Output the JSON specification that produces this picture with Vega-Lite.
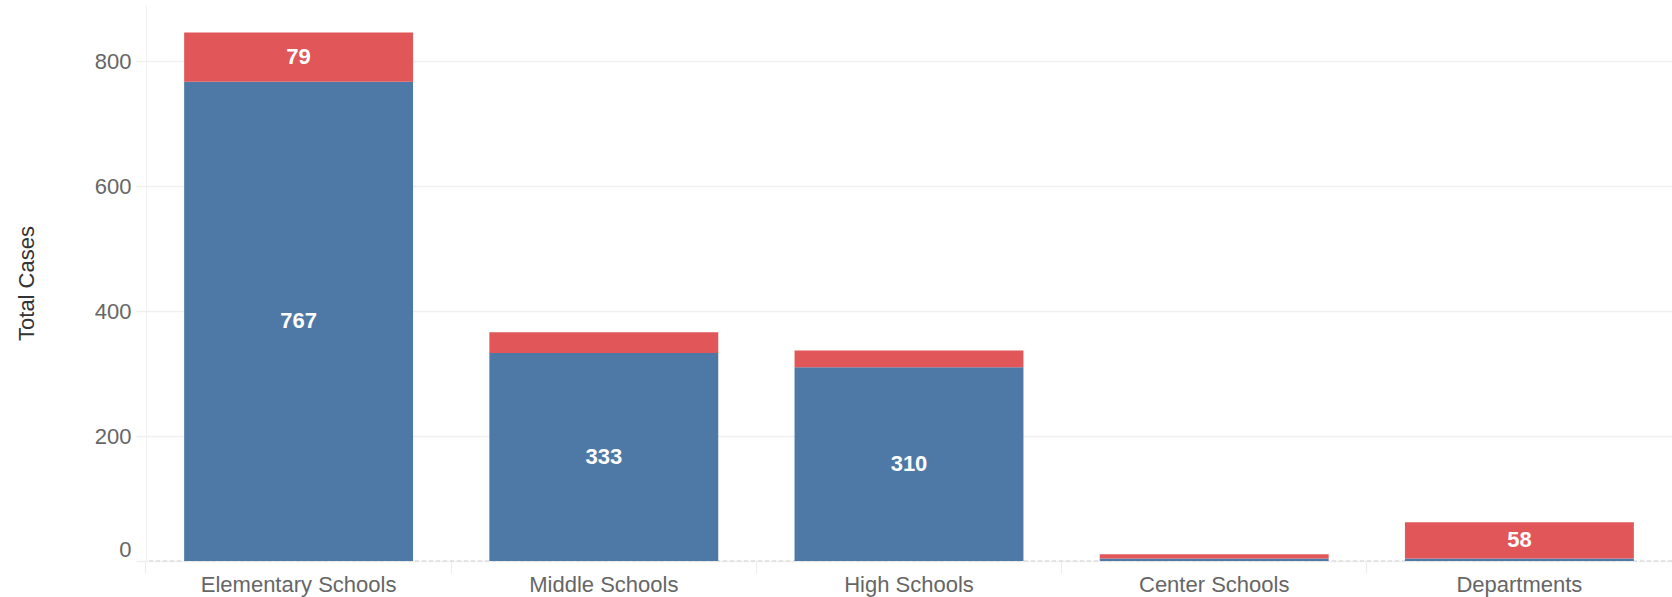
{
  "$schema": "https://vega.github.io/schema/vega-lite/v6.json",
  "width": 1526,
  "height": 556,
  "autosize": "none",
  "padding": {"left": 146, "top": 5, "right": 0, "bottom": 36},
  "background": "white",
  "config": {
    "font": "Liberation Sans",
    "view": {"stroke": null}
  },
  "data": {
    "values": [
      {"category": "Elementary Schools", "type": "Students", "order": 1, "cases": 767},
      {"category": "Elementary Schools", "type": "Staff", "order": 2, "cases": 79},
      {"category": "Middle Schools", "type": "Students", "order": 1, "cases": 333},
      {"category": "Middle Schools", "type": "Staff", "order": 2, "cases": 33},
      {"category": "High Schools", "type": "Students", "order": 1, "cases": 310},
      {"category": "High Schools", "type": "Staff", "order": 2, "cases": 27},
      {"category": "Center Schools", "type": "Students", "order": 1, "cases": 4},
      {"category": "Center Schools", "type": "Staff", "order": 2, "cases": 7},
      {"category": "Departments", "type": "Students", "order": 1, "cases": 4},
      {"category": "Departments", "type": "Staff", "order": 2, "cases": 58}
    ]
  },
  "transform": [
    {"stack": "cases", "groupby": ["category"], "sort": [{"field": "order"}], "as": ["y0", "y1"]}
  ],
  "encoding": {
    "x": {
      "field": "category",
      "type": "nominal",
      "sort": ["Elementary Schools", "Middle Schools", "High Schools", "Center Schools", "Departments"],
      "scale": {"paddingInner": 0.25, "paddingOuter": 0.125},
      "axis": {
        "title": null,
        "labelAngle": 0,
        "labelFontSize": 22,
        "labelColor": "#666666",
        "labelPadding": 1,
        "labelLimit": 500,
        "domain": false,
        "ticks": true,
        "bandPosition": -0.1667,
        "tickColor": "#ececec",
        "tickSize": 12,
        "tickWidth": 1
      }
    }
  },
  "layer": [
    {
      "mark": {"type": "rule", "color": "#e3e3e3", "strokeDash": [4, 3], "strokeWidth": 1},
      "encoding": {"y": {"datum": 0, "type": "quantitative", "scale": {"domain": [0, 890], "nice": false}}, "x": null}
    },
    {
      "mark": {"type": "bar"},
      "encoding": {
        "y": {
          "field": "y1",
          "type": "quantitative",
          "scale": {"domain": [0, 890], "nice": false},
          "axis": {
            "title": "Total Cases",
            "titleFontSize": 22,
            "titleFontWeight": "normal",
            "titleColor": "#333333",
            "titlePadding": 56,
            "values": [0, 200, 400, 600, 800],
            "labelFontSize": 22,
            "labelColor": "#666666",
            "labelPadding": 5,
            "labelOffset": {"condition": {"test": "datum.value === 0", "value": -12}, "value": 0},
            "tickSize": 10,
            "tickColor": "#efefef",
            "tickWidth": 1.5,
            "domain": true,
            "domainColor": "#f0f0f0",
            "domainWidth": 1,
            "grid": true,
            "gridColor": "#f0f0f0",
            "gridWidth": 1.5
          }
        },
        "y2": {"field": "y0"},
        "color": {
          "field": "type",
          "type": "nominal",
          "scale": {"domain": ["Students", "Staff"], "range": ["#4e79a7", "#e15759"]},
          "legend": null
        }
      }
    },
    {
      "transform": [
        {"filter": "datum.cases >= 50"},
        {"calculate": "(datum.y0 + datum.y1) / 2", "as": "mid"}
      ],
      "mark": {"type": "text", "color": "white", "fontSize": 22, "fontWeight": "bold", "baseline": "middle", "align": "center"},
      "encoding": {
        "y": {"field": "mid", "type": "quantitative"},
        "text": {"field": "cases", "type": "quantitative"}
      }
    }
  ]
}
